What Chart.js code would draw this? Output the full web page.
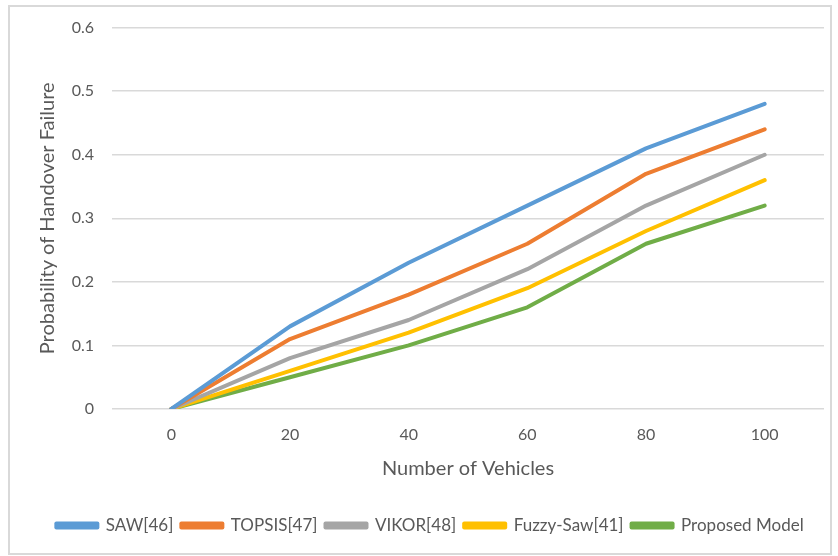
<!DOCTYPE html>
<html>
<head>
<meta charset="utf-8">
<script src="https://cdn.jsdelivr.net/npm/chart.js@4/dist/chart.umd.min.js"></script>
<style>
  body { margin: 0; background: #fff; }
  #frame { position: absolute; left: 8px; top: 5px; width: 820px; height: 546px; border: 2px solid #d9d9d9; }
  #c { position: absolute; left: 0; top: 0; }
</style>
</head>
<body>
<div id="frame"></div>
<canvas id="c" width="838" height="556"></canvas>
<script>
// vehicles on the x axis
const vehicles = ["0", "20", "40", "60", "80", "100"];

// handover failure probability per method
const saw      = [0, 0.13, 0.23, 0.32, 0.41, 0.48];
const topsis   = [0, 0.11, 0.18, 0.26, 0.37, 0.44];
const vikor    = [0, 0.08, 0.14, 0.22, 0.32, 0.40];
const fuzzySaw = [0, 0.06, 0.12, 0.19, 0.28, 0.36];
const proposed = [0, 0.05, 0.10, 0.16, 0.26, 0.32];

const yTicks = [0, 0.1, 0.2, 0.3, 0.4, 0.5, 0.6];

const txt = "#595959";
const fam = "Lato, 'Open Sans', sans-serif";

const line = (label, data, color) => ({
  label, data,
  borderColor: color,
  backgroundColor: color,
  borderWidth: 4,
  pointRadius: 0,
  tension: 0,
  borderCapStyle: "round",
  borderJoinStyle: "round"
});

new Chart(document.getElementById("c"), {
  type: "line",
  data: {
    labels: vehicles,
    datasets: [
      line("SAW[46]", saw, "#5b9bd5"),
      line("TOPSIS[47]", topsis, "#ed7d31"),
      line("VIKOR[48]", vikor, "#a5a5a5"),
      line("Fuzzy-Saw[41]", fuzzySaw, "#ffc000"),
      line("Proposed Model", proposed, "#70ad47")
    ]
  },
  options: {
    responsive: false,
    animation: false,
    layout: { padding: { left: 36, right: 14, top: 20, bottom: 12 } },
    scales: {
      x: {
        offset: true,
        grid: { display: false, drawTicks: false },
        border: { display: false },
        ticks: { color: txt, font: { family: fam, size: 16 }, padding: 16 },
        title: {
          display: true, text: "Number of Vehicles", color: txt,
          font: { family: fam, size: 20 }, padding: { top: 0, bottom: 28 }
        },
        afterFit: s => { s.height = 100; }
      },
      y: {
        min: 0, max: 0.6,
        afterBuildTicks: s => { s.ticks = yTicks.map(v => ({ value: v })); },
        grid: { color: "#d9d9d9", lineWidth: 1.5, drawTicks: false },
        border: { display: false },
        ticks: { color: txt, font: { family: fam, size: 16 }, padding: 18 },
        title: {
          display: true, text: "Probability of Handover Failure", color: txt,
          font: { family: fam, size: 20 }, padding: { top: 0, bottom: 0 }
        },
        afterFit: s => { s.width = 76; }
      }
    },
    plugins: {
      tooltip: { enabled: false },
      legend: {
        position: "bottom",
        labels: {
          color: txt,
          font: { family: fam, size: 17 },
          boxWidth: 41,
          boxHeight: 4,
          padding: 8
        }
      }
    }
  }
});
</script>
</body>
</html>
